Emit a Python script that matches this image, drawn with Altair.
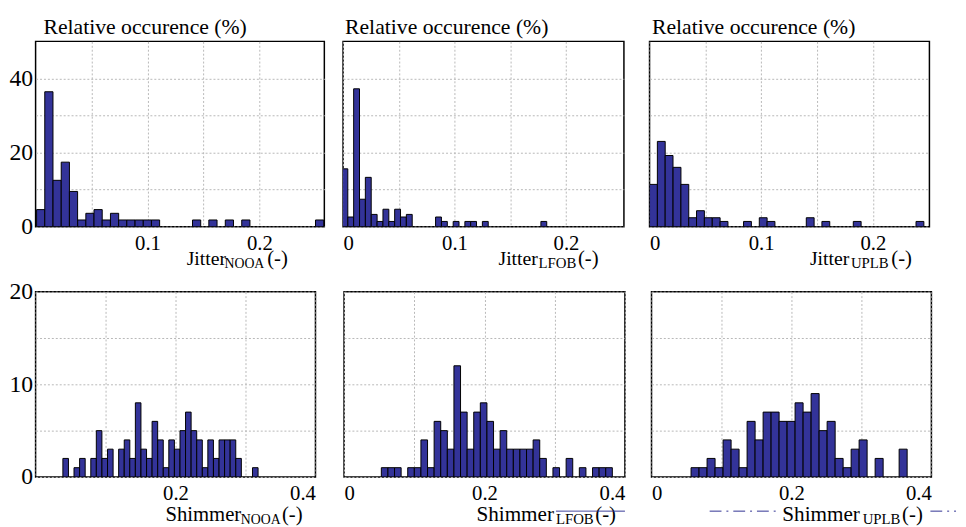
import altair as alt
import pandas as pd

FONT = "Liberation Serif"
BAR_FILL = "#333399"
LINE_BLUE = "#2e3192"

# ---------------- texts ----------------
PANEL_TITLE = "Relative occurence (%)"
X_TITLE_MAIN = ["Jitter", "Jitter", "Jitter", "Shimmer", "Shimmer", "Shimmer"]
X_TITLE_SUB = ["NOOA", "LFOB", "UPLB", "NOOA", "LFOB", "UPLB"]
X_TITLE_UNIT = "(-)"

# ---------------- axes: grid values and tick labels ----------------
JIT_GRID_FIRST = [0.05, 0.1, 0.15, 0.2]
JIT_GRID = [0, 0.05, 0.1, 0.15, 0.2]
JIT_LABELS_FIRST = [0.1, 0.2]
JIT_LABELS = [0, 0.1, 0.2]
SHIM_GRID = [0, 0.1, 0.2, 0.3, 0.4]
SHIM_LABELS_FIRST = [0.2, 0.4]
SHIM_LABELS = [0, 0.2, 0.4]
JIT_Y_GRID = [0, 10, 20, 30, 40]
JIT_Y_LABELS = [0, 20, 40]
SHIM_Y_GRID = [0, 5, 10, 15, 20]
SHIM_Y_LABELS = [0, 10, 20]

JIT_X_MAX = [0.258, 0.252, 0.2507]
SHIM_X_MAX = [0.4, 0.4, 0.4]
JIT_Y_MAX = 50
SHIM_Y_MAX = 20

# ---------------- histogram data (bin left edge, relative occurrence %) ----------------
J_NOOA_BW = 0.00733
J_NOOA_LEFT = [0.0009, 0.0082, 0.0156, 0.0229, 0.0302, 0.0376, 0.0449, 0.0522, 0.0595, 0.0669,
               0.0742, 0.0815, 0.0889, 0.0962, 0.1035, 0.1402, 0.1548, 0.1695, 0.1842, 0.2501]
J_NOOA_PCT = [4.6, 36.4, 12.5, 17.4, 9.5, 1.8, 3.6, 4.6, 1.8, 3.6,
              1.8, 1.8, 1.8, 1.8, 1.8, 1.8, 1.8, 1.8, 1.8, 1.8]

J_LFOB_BW = 0.00525
J_LFOB_LEFT = [-0.0010, 0.0043, 0.0095, 0.0148, 0.0200, 0.0253, 0.0305, 0.0358, 0.0410, 0.0463,
               0.0515, 0.0568, 0.0830, 0.0883, 0.0988, 0.1093, 0.1145, 0.1250, 0.1775]
J_LFOB_PCT = [15.6, 2.6, 37.2, 7.4, 13.3, 3.3, 1.4, 4.7, 1.4, 4.7,
              2.6, 3.3, 2.6, 1.4, 1.4, 1.4, 1.4, 1.4, 1.4]

J_UPLB_BW = 0.00702
J_UPLB_LEFT = [0.0, 0.0070, 0.0140, 0.0211, 0.0281, 0.0351, 0.0421, 0.0491, 0.0562, 0.0632,
               0.0842, 0.0983, 0.1053, 0.1404, 0.1544, 0.1825, 0.2387]
J_UPLB_PCT = [11.4, 23.0, 19.2, 16.0, 11.4, 2.4, 4.3, 2.4, 2.4, 1.4,
              1.4, 2.4, 1.4, 2.4, 1.4, 1.4, 1.4]

S_NOOA_BW = 0.00797
S_NOOA_LEFT = [0.0390, 0.0549, 0.0629, 0.0789, 0.0868, 0.0948, 0.1028, 0.1187, 0.1267, 0.1346,
               0.1426, 0.1506, 0.1586, 0.1665, 0.1745, 0.1825, 0.1904, 0.1984, 0.2064, 0.2143,
               0.2223, 0.2303, 0.2383, 0.2462, 0.2542, 0.2622, 0.2701, 0.2781, 0.2861, 0.3100]
S_NOOA_PCT = [2, 1, 2, 2, 5, 2, 3, 3, 4, 2,
              8, 3, 2, 6, 4, 1, 4, 3, 5, 7,
              5, 4, 1, 4, 2, 4, 4, 4, 2, 1]

S_LFOB_BW = 0.0094
S_LFOB_LEFT = [0.0531, 0.0625, 0.0719, 0.0907, 0.1001, 0.1095, 0.1189, 0.1283, 0.1377, 0.1471,
               0.1565, 0.1659, 0.1753, 0.1847, 0.1941, 0.2035, 0.2129, 0.2223, 0.2317, 0.2411,
               0.2505, 0.2599, 0.2693, 0.2787, 0.2975, 0.3163, 0.3351, 0.3539, 0.3633, 0.3727]
S_LFOB_PCT = [1, 1, 1, 1, 1, 4, 1, 6, 5, 3,
              12, 7, 3, 7, 8, 6, 3, 5, 3, 3,
              3, 3, 4, 2, 1, 2, 1, 1, 1, 1]

S_UPLB_BW = 0.01144
S_UPLB_LEFT = [0.0565, 0.0679, 0.0794, 0.0908, 0.1023, 0.1137, 0.1251, 0.1366, 0.1480, 0.1595,
               0.1709, 0.1823, 0.1938, 0.2052, 0.2167, 0.2281, 0.2395, 0.2510, 0.2624, 0.2739,
               0.2853, 0.2967, 0.3196, 0.3539]
S_UPLB_PCT = [1, 1, 2, 1, 4, 3, 1, 6, 4, 7,
              7, 6, 6, 8, 7, 9, 5, 6, 2, 1,
              3, 4, 2, 3]

# ---------------- layout constants (pixels) ----------------
H = 188
TOP_W = [293, 285, 284]
BOT_W = [284, 285, 284]


def label_expr(labels):
    arr = "[" + ",".join(repr(v) for v in labels) + "]"
    return f"indexof({arr}, datum.value) >= 0 ? format(datum.value, '~g') : ''"


def text_layer(txt, x, y, size):
    return alt.Chart(pd.DataFrame({"t": [txt]})).mark_text(
        align="left", baseline="alphabetic", font=FONT, fontSize=size, color="black"
    ).encode(x=alt.value(x), y=alt.value(y), text="t:N")


def rule_layer(x1, x2, y, dash):
    return alt.Chart(pd.DataFrame({"a": [0]})).mark_rule(
        color=LINE_BLUE, strokeWidth=1, strokeDash=dash
    ).encode(x=alt.value(x1), x2=alt.value(x2), y=alt.value(y))


def panel(left, pct, bw, xmax, ymax, xgrid, xlabels, ygrid, ylabels, width,
          idx, tpos, sizes, show_y, title_dx=None, extras=()):
    df = pd.DataFrame({"x": left, "pct": pct})
    df["x2"] = df["x"] + bw
    xaxis = alt.Axis(values=xgrid, labelExpr=label_expr(xlabels), grid=True, ticks=False,
                     domain=False, title=None, labelFlush=True, labelOverlap=False,
                     labelPadding=6, labelFontSize=21, labelFont=FONT, labelColor="black")
    if show_y:
        yaxis = alt.Axis(values=ygrid, labelExpr=label_expr(ylabels), grid=True, ticks=False,
                         domain=False, title=None, labelOverlap=False, labelPadding=3,
                         labelFontSize=24, labelFont=FONT, labelColor="black")
    else:
        yaxis = alt.Axis(values=ygrid, labels=False, grid=True, ticks=False, domain=False,
                         title=None)
    bars = alt.Chart(df).mark_bar(fill=BAR_FILL, stroke="black", strokeWidth=1, clip=True).encode(
        x=alt.X("x:Q", scale=alt.Scale(domain=[0, xmax], nice=False, zero=False), axis=xaxis),
        x2="x2",
        y=alt.Y("pct:Q", scale=alt.Scale(domain=[0, ymax], nice=False), axis=yaxis),
        y2=alt.datum(0),
    )
    (xm, xs, xu, yb) = tpos
    (fm, fs, fu) = sizes
    layers = [bars,
              text_layer(X_TITLE_MAIN[idx], xm, yb, fm),
              text_layer(X_TITLE_SUB[idx], xs, yb + 3, fs),
              text_layer(X_TITLE_UNIT, xu, yb, fu)]
    if title_dx is not None:
        layers.append(text_layer(PANEL_TITLE, title_dx, -7.4, 22))
    layers += list(extras)
    return alt.layer(*layers).properties(width=width, height=H)


p1t = panel(J_NOOA_LEFT, J_NOOA_PCT, J_NOOA_BW, JIT_X_MAX[0], JIT_Y_MAX, JIT_GRID_FIRST,
            JIT_LABELS_FIRST, JIT_Y_GRID, JIT_Y_LABELS, TOP_W[0], 0,
            (153.3, 191.7, 235, 226.6), (20, 14, 21), True, title_dx=8)
p2t = panel(J_LFOB_LEFT, J_LFOB_PCT, J_LFOB_BW, JIT_X_MAX[1], JIT_Y_MAX, JIT_GRID,
            JIT_LABELS, JIT_Y_GRID, JIT_Y_LABELS, TOP_W[1], 1,
            (157.7, 198.3, 238.3, 226.6), (20, 15, 21), False, title_dx=2)
p3t = panel(J_UPLB_LEFT, J_UPLB_PCT, J_UPLB_BW, JIT_X_MAX[2], JIT_Y_MAX, JIT_GRID,
            JIT_LABELS, JIT_Y_GRID, JIT_Y_LABELS, TOP_W[2], 2,
            (162.7, 204.3, 245.3, 226.6), (20, 15, 21), False, title_dx=2.5)

p1b = panel(S_NOOA_LEFT, S_NOOA_PCT, S_NOOA_BW, SHIM_X_MAX[0], SHIM_Y_MAX, SHIM_GRID,
            SHIM_LABELS_FIRST, SHIM_Y_GRID, SHIM_Y_LABELS, BOT_W[0], 3,
            (131.7, 208.3, 250, 232.3), (21, 14, 21), True)
p2b = panel(S_LFOB_LEFT, S_LFOB_PCT, S_LFOB_BW, SHIM_X_MAX[1], SHIM_Y_MAX, SHIM_GRID,
            SHIM_LABELS, SHIM_Y_GRID, SHIM_Y_LABELS, BOT_W[1], 4,
            (134.3, 215, 255, 232.3), (21.5, 15, 21), False,
            extras=[rule_layer(215, 285, 222.7, [1, 0])])
p3b = panel(S_UPLB_LEFT, S_UPLB_PCT, S_UPLB_BW, SHIM_X_MAX[2], SHIM_Y_MAX, SHIM_GRID,
            SHIM_LABELS, SHIM_Y_GRID, SHIM_Y_LABELS, BOT_W[2], 5,
            (132.7, 214.3, 254.3, 232.3), (21.5, 15, 21), False,
            extras=[rule_layer(59, 126, 222.7, [12, 5, 2, 5]),
                    rule_layer(283, 309, 222.7, [12, 5, 2, 5])])

top_row = alt.hconcat(alt.hconcat(p1t, p2t, spacing=17), p3t, spacing=24)
bottom_row = alt.hconcat(alt.hconcat(p1b, p2b, spacing=27), p3b, spacing=24)

chart = alt.vconcat(top_row, bottom_row, spacing=7).properties(
    padding={"left": 0, "top": 3, "right": 0, "bottom": 0},
    background="white",
).configure_view(stroke="black", strokeWidth=1.5).configure_axis(
    gridColor="#b8b8b8", gridDash=[2, 2], gridWidth=1
)

chart.save("out.html", embed_options={"renderer": "svg", "actions": False})
